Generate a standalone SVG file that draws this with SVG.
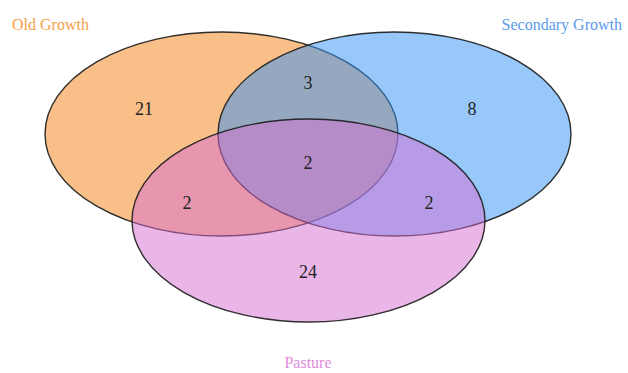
<svg xmlns="http://www.w3.org/2000/svg" width="628" height="373" viewBox="0 0 628 373">
<style>
.set{stroke:#1a1a1a;stroke-width:1.4;stroke-opacity:0.9}
.num{font-family:"Liberation Serif","Times New Roman",serif;font-size:18px;fill:#222;text-anchor:middle}
.lab{font-family:"Liberation Serif","Times New Roman",serif;font-size:16px}
</style>
<rect width="628" height="373" fill="#ffffff"/>
<g id="old-growth"><ellipse class="set" cx="221.5" cy="134" rx="176.5" ry="102" fill="#F17F11" fill-opacity="0.5"/></g>
<g id="secondary-growth"><ellipse class="set" cx="394.5" cy="134" rx="176.5" ry="102" fill="#3191F5" fill-opacity="0.5"/></g>
<g id="pasture"><ellipse class="set" cx="308.5" cy="220.5" rx="176.5" ry="101.5" fill="#D56DD1" fill-opacity="0.5"/></g>
<g id="connectors"></g>
<g id="counts">
<text class="num" x="144" y="115">21</text>
<text class="num" x="308" y="89">3</text>
<text class="num" x="472" y="115">8</text>
<text class="num" x="308" y="169">2</text>
<text class="num" x="187" y="209">2</text>
<text class="num" x="429" y="209">2</text>
<text class="num" x="308" y="278">24</text>
</g>
<g id="labels">
<text class="lab" x="12" y="30" fill="#F5A04A">Old Growth</text>
<text class="lab" x="622" y="30" fill="#5B9BEA" text-anchor="end">Secondary Growth</text>
<text class="lab" x="308" y="368" fill="#E08BDB" text-anchor="middle">Pasture</text>
</g>
</svg>
